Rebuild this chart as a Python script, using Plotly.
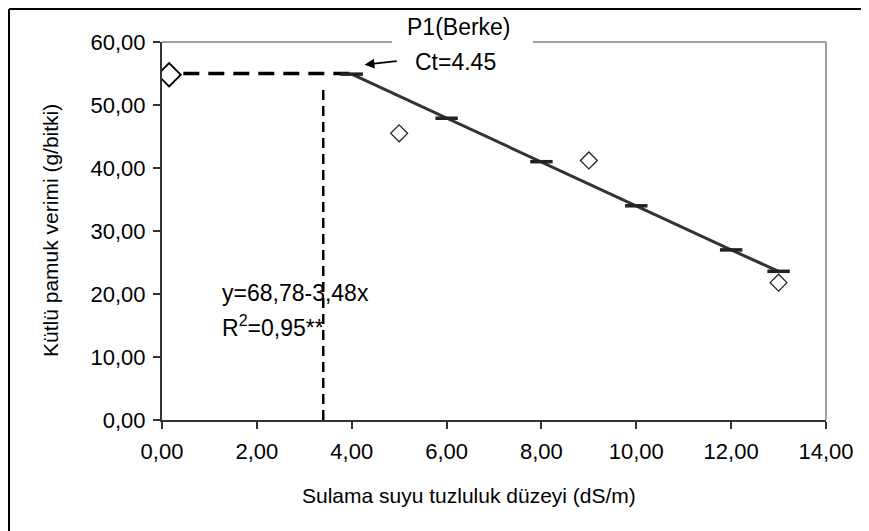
import plotly.graph_objects as go

# ---- data ----
obs_x = [5.0, 9.0, 13.0]
obs_y = [45.5, 41.2, 21.8]
control_x = [0.15]
control_y = [54.8]
fit_x = [4.0, 6.0, 8.0, 10.0, 12.0, 13.0]
fit_y = [54.9, 47.9, 41.0, 34.0, 27.0, 23.6]
plateau_x = [0.45, 4.0]
plateau_y = [55.0, 55.0]
ct_x = [3.4, 3.4]
ct_y = [0.0, 52.6]
x_ticks = [0, 2, 4, 6, 8, 10, 12, 14]
x_labels = ["0,00", "2,00", "4,00", "6,00", "8,00", "10,00", "12,00", "14,00"]
y_ticks = [0, 10, 20, 30, 40, 50, 60]
y_labels = ["0,00", "10,00", "20,00", "30,00", "40,00", "50,00", "60,00"]

FONT = "Liberation Sans, Arial, sans-serif"
W, H = 869, 531
# the page adds an 8px body margin; margins below compensate for it
L, R, T, B = 154, 51, 34, 119
pw = W - L - R
ph = H - T - B


def px(page_x):
    return (page_x - 8 - L) / pw


def py(page_y):
    return (H - B - (page_y - 8)) / ph


fig = go.Figure()
fig.add_trace(go.Scatter(x=plateau_x, y=plateau_y, mode="lines",
                         line=dict(color="black", width=3.5, dash="16px,9px"), hoverinfo="skip"))
fig.add_trace(go.Scatter(x=ct_x, y=ct_y, mode="lines",
                         line=dict(color="black", width=2.5, dash="10px,6px"), hoverinfo="skip"))
fig.add_trace(go.Scatter(x=fit_x, y=fit_y, mode="lines+markers",
                         line=dict(color="#333333", width=3),
                         marker=dict(symbol="line-ew", size=16,
                                     line=dict(color="#222222", width=3.5))))
fig.add_trace(go.Scatter(x=obs_x, y=obs_y, mode="markers",
                         marker=dict(symbol="diamond-open", size=13, color="#222222",
                                     line=dict(width=1.3))))
fig.add_trace(go.Scatter(x=control_x, y=control_y, mode="markers",
                         marker=dict(symbol="diamond-open", size=18, color="black",
                                     line=dict(width=1.8))))

shapes = [
    # top frame of plot area (gray), interrupted by the title
    dict(type="line", xref="paper", yref="paper", x0=0, x1=px(392), y0=1, y1=1,
         line=dict(color="#a0a0a0", width=2)),
    dict(type="line", xref="paper", yref="paper", x0=px(533), x1=1, y0=1, y1=1,
         line=dict(color="#a0a0a0", width=2)),
    # right frame
    dict(type="line", xref="paper", yref="paper", x0=1, x1=1, y0=0, y1=1,
         line=dict(color="#a0a0a0", width=2)),
    # outer chart border (left and top only)
    dict(type="line", xref="paper", yref="paper",
         x0=px(9), x1=px(880), y0=py(9), y1=py(9), line=dict(color="black", width=2)),
    dict(type="line", xref="paper", yref="paper",
         x0=px(9), x1=px(9), y0=py(9), y1=py(560), line=dict(color="black", width=2)),
]

annotations = [
    dict(text="P1(Berke)", xref="paper", yref="paper", x=px(459), y=py(27),
         xanchor="center", yanchor="middle", showarrow=False,
         font=dict(family=FONT, size=23, color="black")),
    dict(text="Ct=4.45", x=5.3, y=56.9, xref="x", yref="y", showarrow=False,
         xanchor="left", yanchor="middle", font=dict(family=FONT, size=23, color="black")),
    dict(x=4.27, y=56.4, ax=4.98, ay=57.0, xref="x", yref="y", axref="x", ayref="y",
         text="", showarrow=True, arrowhead=2, arrowsize=1.1, arrowwidth=1.8,
         arrowcolor="black"),
    dict(text="y=68,78-3,48x", x=1.22, y=20.2, xref="x", yref="y", showarrow=False,
         xanchor="left", yanchor="middle", font=dict(family=FONT, size=23, color="black")),
    dict(text="R<sup>2</sup>=0,95**", x=1.22, y=15.0, xref="x", yref="y", showarrow=False,
         xanchor="left", yanchor="middle", font=dict(family=FONT, size=23, color="black")),
    # axis titles
    dict(text="Sulama suyu tuzluluk düzeyi (dS/m)", xref="paper", yref="paper",
         x=px(469), y=py(496), xanchor="center", yanchor="middle", showarrow=False,
         font=dict(family=FONT, size=21, color="black")),
    dict(text="Kütlü pamuk verimi (g/bitki)", xref="paper", yref="paper",
         x=px(50), y=py(231), xanchor="center", yanchor="middle", showarrow=False,
         textangle=-90, font=dict(family=FONT, size=21, color="black")),
]

fig.update_layout(
    width=W, height=H,
    margin=dict(l=L, r=R, t=T, b=B),
    paper_bgcolor="white", plot_bgcolor="white",
    showlegend=False,
    shapes=shapes,
    annotations=annotations,
    font=dict(family=FONT, color="black"),
    xaxis=dict(range=[0, 14], tickvals=x_ticks, ticktext=x_labels,
               showgrid=False, zeroline=False, showline=True, linecolor="#333333",
               linewidth=2, ticks="outside", ticklen=7, tickwidth=1.5, tickcolor="#333333",
               ticklabelstandoff=4,
               tickfont=dict(family=FONT, size=22, color="black")),
    yaxis=dict(range=[0, 60], tickvals=y_ticks, ticktext=y_labels,
               showgrid=False, zeroline=False, showline=True, linecolor="#333333",
               linewidth=2, ticks="outside", ticklen=7, tickwidth=1.5, tickcolor="#333333",
               ticklabelstandoff=3,
               tickfont=dict(family=FONT, size=22, color="black")),
)

fig.write_html("out.html")
